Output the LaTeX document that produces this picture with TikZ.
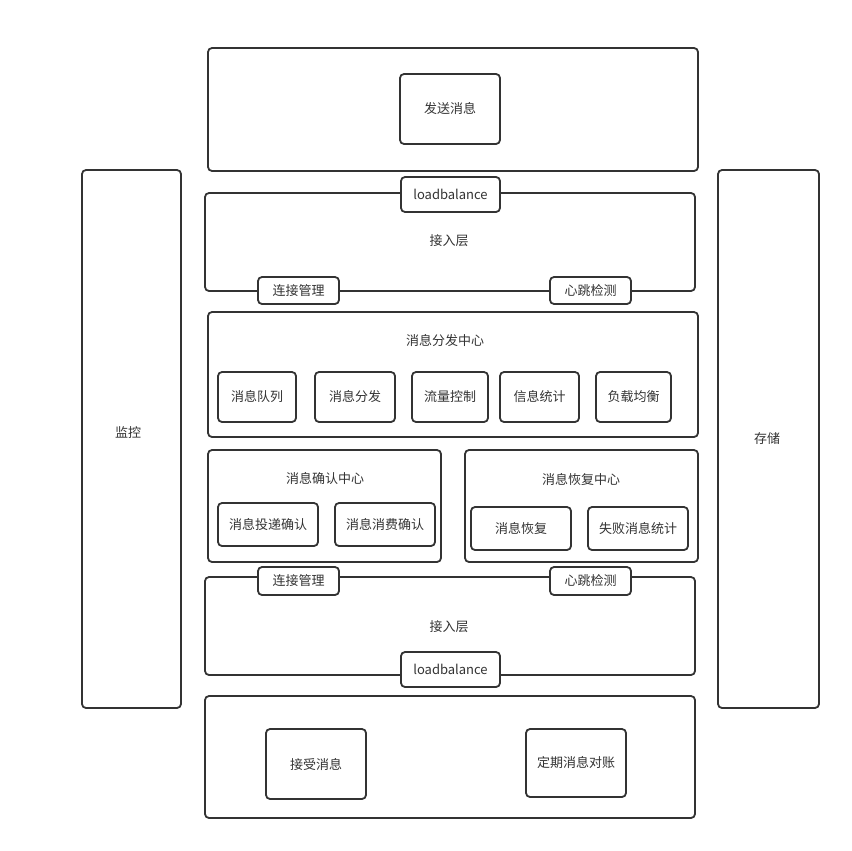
\documentclass[tikz,border=0pt]{standalone}
\usepackage{fontspec}
\setmainfont{Noto Sans CJK SC}
\begin{document}
\begin{tikzpicture}[x=1pt,y=-1pt,
  every node/.style={font=\fontsize{13}{15}\selectfont, text=ink},
  box/.style={draw=ink, line width=1.8pt, rounded corners=4pt, fill=white, inner sep=0pt},
  lbl/.style={inner sep=0pt}]
\definecolor{ink}{HTML}{333333}
\useasboundingbox[fill=white] (0,0) rectangle (851,851);
% sender tier
\node[box, minimum width=490, minimum height=123] (top) at (453,109.5) {};
\node[box, minimum width=100, minimum height=70] (send) at (450,109) {发送消息};
% upper access layer
\node[box, minimum width=490, minimum height=98] (acc1) at (450,242) {};
\node[lbl] (acc1t) at (449,241) {接入层};
\node[box, minimum width=99, minimum height=35] (lb1) at (450.5,194.5) {loadbalance};
\node[box, minimum width=81, minimum height=27] (conn1) at (298.5,290.5) {连接管理};
\node[box, minimum width=81, minimum height=27] (hb1) at (590.5,290.5) {心跳检测};
% dispatch center
\node[box, minimum width=490, minimum height=125] (dist) at (453,374.5) {};
\node[lbl] (distt) at (445,341) {消息分发中心};
\node[box, minimum width=78, minimum height=50] (q) at (257,397) {消息队列};
\node[box, minimum width=80, minimum height=50] (d) at (355,397) {消息分发};
\node[box, minimum width=76, minimum height=50] (f) at (450,397) {流量控制};
\node[box, minimum width=79, minimum height=50] (s) at (539.5,397) {信息统计};
\node[box, minimum width=75, minimum height=50] (l) at (633.5,397) {负载均衡};
% acknowledgement center
\node[box, minimum width=233, minimum height=112] (ack) at (324.5,506) {};
\node[lbl] (ackt) at (325,478) {消息确认中心};
\node[box, minimum width=100, minimum height=43] (ack1) at (268,524.5) {消息投递确认};
\node[box, minimum width=100, minimum height=43] (ack2) at (385,524.5) {消息消费确认};
% recovery center
\node[box, minimum width=233, minimum height=112] (rec) at (581.5,506) {};
\node[lbl] (rect) at (581,480) {消息恢复中心};
\node[box, minimum width=100, minimum height=43] (rec1) at (521,528.5) {消息恢复};
\node[box, minimum width=100, minimum height=43] (rec2) at (638,528.5) {失败消息统计};
% lower access layer
\node[box, minimum width=490, minimum height=98] (acc2) at (450,626) {};
\node[lbl] (acc2t) at (449,627) {接入层};
\node[box, minimum width=81, minimum height=28] (conn2) at (298.5,581) {连接管理};
\node[box, minimum width=81, minimum height=28] (hb2) at (590.5,581) {心跳检测};
\node[box, minimum width=99, minimum height=35] (lb2) at (450.5,669.5) {loadbalance};
% receiver tier
\node[box, minimum width=490, minimum height=122] (bot) at (450,757) {};
\node[box, minimum width=100, minimum height=70] (recv) at (316,764) {接受消息};
\node[box, minimum width=100, minimum height=68] (check) at (576,763) {定期消息对账};
% side columns
\node[box, minimum width=99, minimum height=538] (mon) at (131.5,439) {};
\node[lbl] (mont) at (128,432) {监控};
\node[box, minimum width=101, minimum height=538] (sto) at (768.5,439) {};
\node[lbl] (stot) at (767,439) {存储};
\end{tikzpicture}
\end{document}
